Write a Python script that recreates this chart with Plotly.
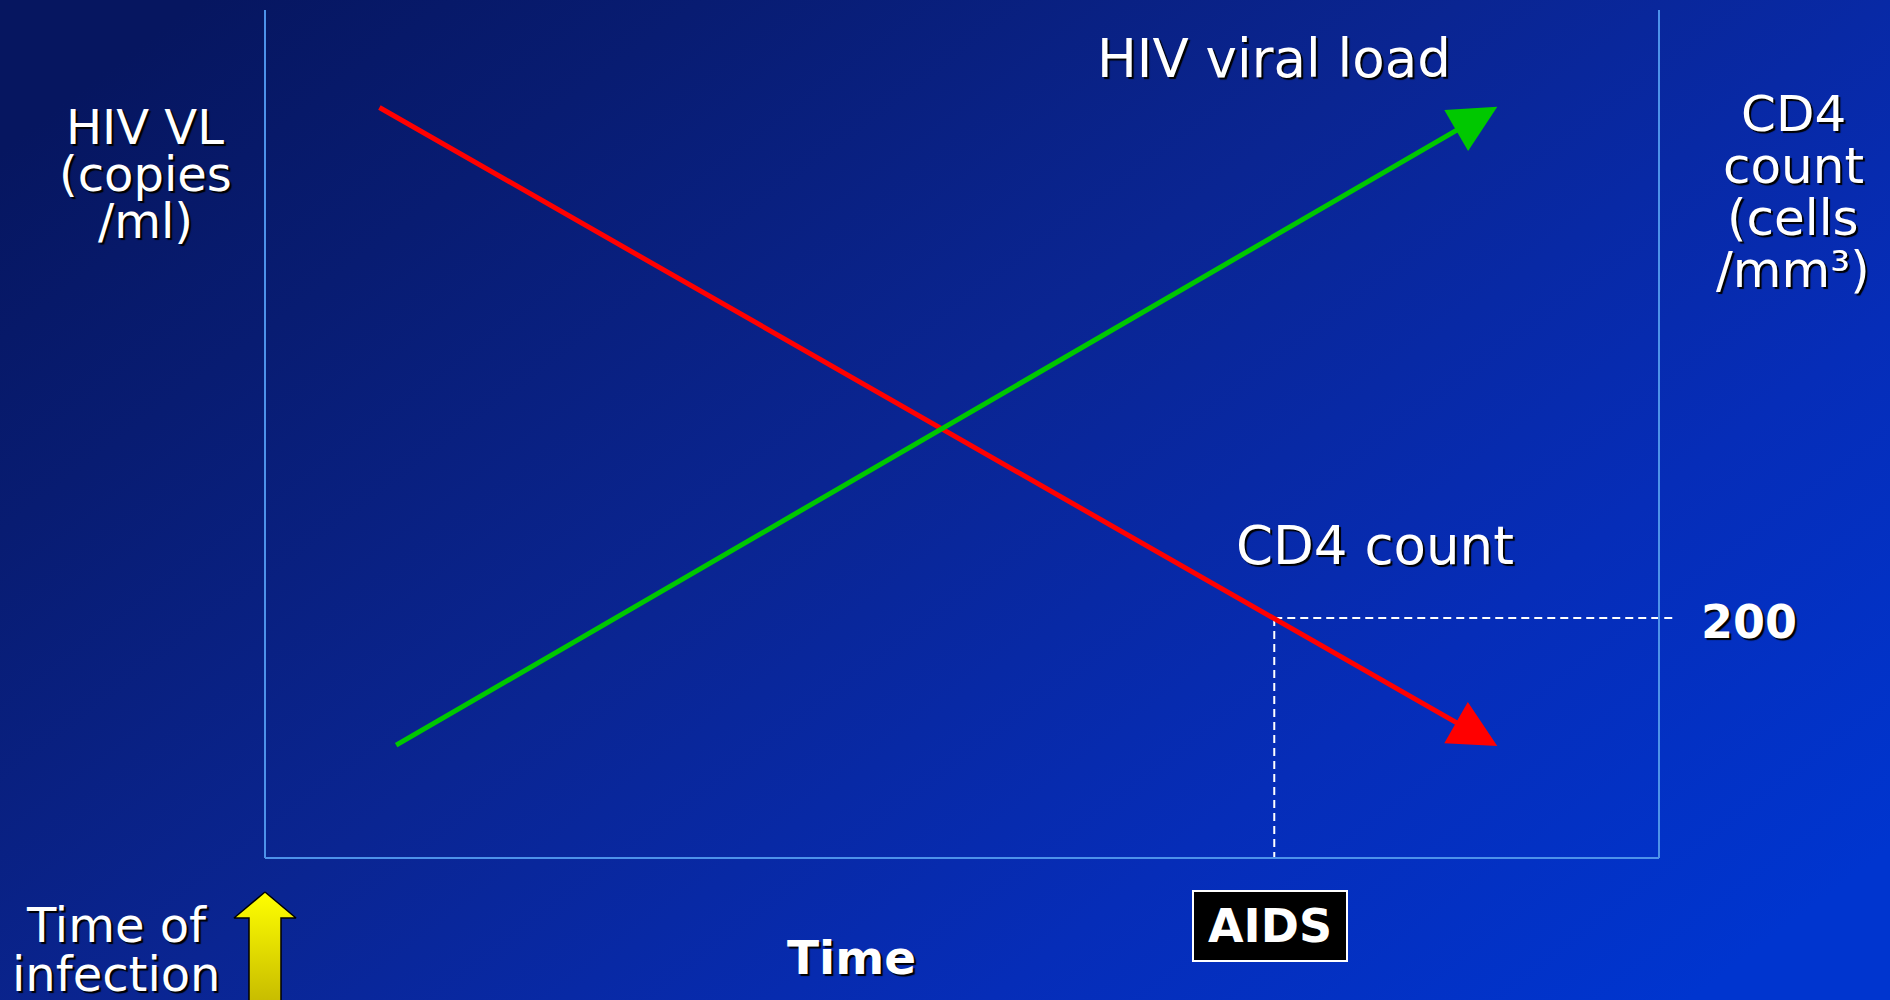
import base64
import plotly.graph_objects as go

# chart values (time and level on a 0-100 schematic scale)
vl_time = [9.3, 88.4]
vl_level = [13.2, 88.6]
cd4_time = [8.1, 88.4]
cd4_level = [88.6, 13.2]
aids_time = 72.4
cd4_threshold = 28.3
threshold_label = "200"
infection_time = 0

W, H = 1890, 1000
# frame of the schematic plot, in pixels
fx0, fx1, fy_top, fy_bot = 265, 1659, 10, 858
sx = (fx1 - fx0) / 100
sy = (fy_bot - fy_top) / 100
x_range = [-fx0 / sx, (W - fx0) / sx]
y_range = [-(H - fy_bot) / sy, fy_bot / sy]

FONT = "DejaVu Sans"
SHADOW = "2px 2px 1px #000000"


def px(x):
    return x / W


def py(y):
    return 1 - y / H


fig = go.Figure()

# background gradient
svg = (
    "<svg xmlns='http://www.w3.org/2000/svg' width='1890' height='1000'>"
    "<defs><linearGradient id='g' x1='0' y1='0.15' x2='1' y2='0.85'>"
    "<stop offset='0' stop-color='#061660'/>"
    "<stop offset='0.18' stop-color='#081c72'/>"
    "<stop offset='0.45' stop-color='#0a2592'/>"
    "<stop offset='0.75' stop-color='#062db8'/>"
    "<stop offset='1' stop-color='#0035cf'/>"
    "</linearGradient></defs>"
    "<rect width='1890' height='1000' fill='url(#g)'/></svg>"
)
fig.add_layout_image(
    source="data:image/svg+xml;base64," + base64.b64encode(svg.encode()).decode(),
    xref="paper", yref="paper", x=0, y=1, sizex=1, sizey=1,
    sizing="stretch", layer="below",
)

# frame
for s in [dict(x0=0, x1=0, y0=0, y1=100), dict(x0=100, x1=100, y0=0, y1=100),
          dict(x0=0, x1=100, y0=0, y1=0)]:
    fig.add_shape(type="line", xref="x", yref="y", line=dict(color="#4d92ea", width=2), **s)

# dashed guide lines at AIDS / CD4 200
fig.add_trace(go.Scatter(
    x=[aids_time, x_range[1] - 215 / sx], y=[cd4_threshold, cd4_threshold],
    mode="lines", line=dict(color="white", width=2, dash="8px,5px"),
    hoverinfo="skip", showlegend=False,
))
fig.add_trace(go.Scatter(
    x=[aids_time, aids_time], y=[cd4_threshold, 0],
    mode="lines", line=dict(color="white", width=2, dash="8px,5px"),
    hoverinfo="skip", showlegend=False,
))

# CD4 (red) and viral load (green) lines with arrowheads
for t, v, col in [(cd4_time, cd4_level, "#ff0000"), (vl_time, vl_level, "#00c800")]:
    fig.add_annotation(
        x=t[-1], y=v[-1], ax=t[0], ay=v[0], xref="x", yref="y", axref="x", ayref="y",
        text="", showarrow=True, arrowhead=2, arrowsize=1.9, arrowwidth=5,
        arrowcolor=col, standoff=0,
    )

# yellow "time of infection" arrow
hw, sw = 31 / sx, 16 / sx
tip, base, bottom = -(892 - fy_bot) / sy, -(918 - fy_bot) / sy, y_range[0] - 1
ax_ = [infection_time, infection_time + hw, infection_time + sw, infection_time + sw,
       infection_time - sw, infection_time - sw, infection_time - hw, infection_time]
ay_ = [tip, base, base, bottom, bottom, base, base, tip]
fig.add_trace(go.Scatter(
    x=ax_, y=ay_, mode="lines", fill="toself",
    fillgradient=dict(type="vertical", colorscale=[[0, "#c4b800"], [1, "#ffff00"]]),
    line=dict(color="black", width=1.5), hoverinfo="skip", showlegend=False,
))


def label(text, x, y, size, bold=False, **kw):
    fig.add_annotation(
        text=f"<b>{text}</b>" if bold else text, x=px(x), y=py(y),
        xref="paper", yref="paper", showarrow=False,
        xanchor="center", yanchor="middle",
        font=dict(family=FONT, size=size, color="white", shadow=SHADOW), **kw,
    )


for i, t in enumerate(["HIV VL", "(copies", "/ml)"]):
    label(t, 145, 127 + i * 47, 48)
for i, t in enumerate(["CD4", "count", "(cells", "/mm³)"]):
    label(t, 1793, 114 + i * 52, 50)
label("HIV viral load", 1274, 58, 53)
label("CD4 count", 1375, 545, 53)
label(threshold_label, 1749, 622, 46, bold=True)
label("Time", 851, 957, 47, bold=True)
label("Time of", 116, 925, 48)
label("infection", 116, 974, 48)
label("AIDS", 1270, 926, 46, bold=True, bgcolor="black", bordercolor="white",
      borderwidth=2, width=150, height=66)

fig.update_xaxes(visible=False, range=x_range, fixedrange=True)
fig.update_yaxes(visible=False, range=y_range, fixedrange=True)
fig.update_layout(
    width=W, height=H, margin=dict(l=0, r=0, t=0, b=0),
    paper_bgcolor="#0a2490", plot_bgcolor="rgba(0,0,0,0)",
    showlegend=False,
)

fig.write_html("out.html", config={"displayModeBar": False},
               post_script="document.body.style.margin='0';")
